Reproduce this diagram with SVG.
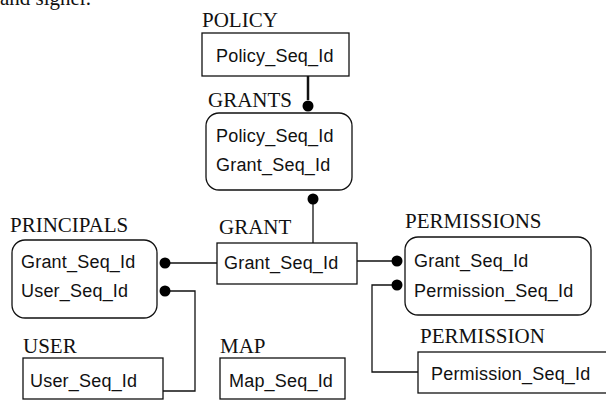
<svg xmlns="http://www.w3.org/2000/svg" width="606" height="401" viewBox="0 0 606 401">
<style>
.lbl{font-family:"Liberation Serif",serif;font-size:21px;fill:#111}
.fld{font-family:"Liberation Sans",Arial,sans-serif;font-size:18px;letter-spacing:0.2px;fill:#111}
.box{fill:#fff;stroke:#111;stroke-width:1.3}
.con{fill:none;stroke:#111;stroke-width:1.3}
.dot{fill:#000}
</style>
<rect width="606" height="401" fill="#fff"/>
<text class="lbl" x="0" y="5">and signer.</text>
<g id="connectors">
<path class="con" d="M308,76 V100" style="stroke-width:2.5"/>
<circle class="dot" cx="308" cy="106" r="5.5"/>
<path class="con" d="M313,200 V243"/>
<circle class="dot" cx="313" cy="199" r="5.5"/>
<path class="con" d="M165,263 H217"/>
<circle class="dot" cx="165" cy="263" r="5.5"/>
<path class="con" d="M165,291 H195 V391 H163"/>
<circle class="dot" cx="165" cy="291" r="5.5"/>
<path class="con" d="M357,261 H397"/>
<circle class="dot" cx="397" cy="261" r="5.5"/>
<path class="con" d="M397,285 H372 V372 H418"/>
<circle class="dot" cx="397" cy="285" r="5.5"/>
</g>
<g id="POLICY">
<text class="lbl" x="202" y="27">POLICY</text>
<rect class="box" x="202" y="33" width="147" height="43"/>
<text class="fld" x="216" y="62">Policy_Seq_Id</text>
</g>
<g id="GRANTS">
<text class="lbl" x="208" y="107">GRANTS</text>
<rect class="box" x="206" y="113" width="146" height="77" rx="13"/>
<text class="fld" x="216" y="142">Policy_Seq_Id</text>
<text class="fld" x="216" y="171">Grant_Seq_Id</text>
</g>
<g id="GRANT">
<text class="lbl" x="219" y="234">GRANT</text>
<rect class="box" x="217" y="243" width="140" height="41"/>
<text class="fld" x="224" y="269">Grant_Seq_Id</text>
</g>
<g id="PRINCIPALS">
<text class="lbl" x="10" y="232">PRINCIPALS</text>
<rect class="box" x="12" y="240" width="145" height="78" rx="13"/>
<text class="fld" x="21" y="268">Grant_Seq_Id</text>
<text class="fld" x="21" y="297">User_Seq_Id</text>
</g>
<g id="PERMISSIONS">
<text class="lbl" x="405" y="228">PERMISSIONS</text>
<rect class="box" x="405" y="237" width="186" height="78" rx="13"/>
<text class="fld" x="414" y="267">Grant_Seq_Id</text>
<text class="fld" x="414" y="297">Permission_Seq_Id</text>
</g>
<g id="PERMISSION">
<text class="lbl" x="420" y="343">PERMISSION</text>
<rect class="box" x="418" y="352" width="200" height="41"/>
<text class="fld" x="431" y="380">Permission_Seq_Id</text>
</g>
<g id="USER">
<text class="lbl" x="23" y="353">USER</text>
<rect class="box" x="23" y="358" width="140" height="41"/>
<text class="fld" x="30" y="387">User_Seq_Id</text>
</g>
<g id="MAP">
<text class="lbl" x="220" y="353">MAP</text>
<rect class="box" x="220" y="358" width="125" height="41"/>
<text class="fld" x="229" y="387">Map_Seq_Id</text>
</g>
</svg>
